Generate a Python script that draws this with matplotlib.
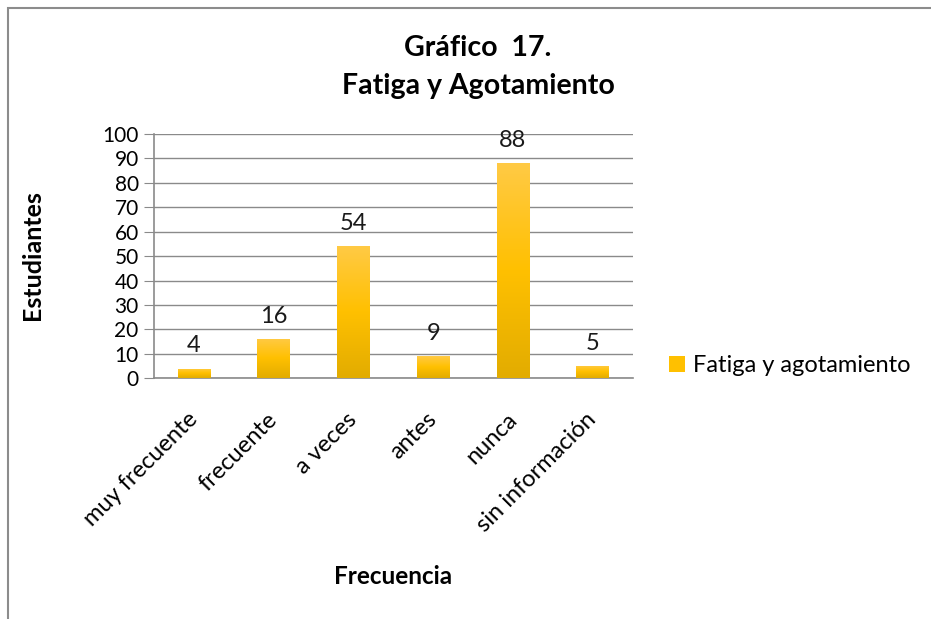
import matplotlib
matplotlib.use("Agg")
import matplotlib.pyplot as plt
import numpy as np
from matplotlib.colors import LinearSegmentedColormap
from matplotlib.patches import Rectangle, Patch
from matplotlib.transforms import ScaledTranslation

categories = ["muy frecuente", "frecuente", "a veces", "antes", "nunca", "sin información"]
values = [4, 16, 54, 9, 88, 5]
series_name = "Fatiga y agotamiento"
title = "Gráfico  17.\nFatiga y Agotamiento"
xlabel = "Frecuencia"
ylabel = "Estudiantes"
yticks = list(range(0, 101, 10))

plt.rcParams['font.family'] = ['Lato', 'DejaVu Sans']

fig = plt.figure(figsize=(9.31, 6.19), dpi=100)
ax = fig.add_axes([154/931, 1-378.3/619, (632.5-154)/931, (378.3-134)/619])

# outer chart border (cropped at right/bottom)
fig.patches.append(Rectangle((8/931, -0.1), 1.2, 1 - 8/619 + 0.1, transform=fig.transFigure,
                             fill=False, edgecolor='#8c8c8c', linewidth=1.5))

x = np.arange(len(categories))
bars = ax.bar(x, values, width=0.41, color='#FFC000', zorder=3)

cmap = LinearSegmentedColormap.from_list('g', ['#E2AC00', '#FFC000', '#FFCA45'])
grad = np.linspace(0, 1, 256).reshape(-1, 1)
for b in bars:
    x0, w, h = b.get_x(), b.get_width(), b.get_height()
    im = ax.imshow(grad, cmap=cmap, extent=[x0, x0 + w, 0, h], origin='lower',
                   aspect='auto', zorder=3.1)
    im.set_clip_path(b)
    ax.annotate(str(int(h)), (x0 + w/2, h), xytext=(0, 9), textcoords='offset points',
                ha='center', va='bottom', fontsize=17, color='#1a1a1a', zorder=5)

ax.set_xlim(-0.5, len(categories) - 0.5)
ax.set_ylim(0, 100)
ax.set_yticks(yticks)
ax.set_yticklabels([str(t) for t in yticks], fontsize=15)
ax.yaxis.grid(True, color='#8a8a8a', linewidth=1, zorder=0)
ax.set_axisbelow(True)
ax.tick_params(axis='y', length=7, color='#8a8a8a', pad=4)
ax.tick_params(axis='x', length=0, pad=22)
ax.set_xticks(x)
ax.set_xticklabels(categories, rotation=45, ha='right', va='top', rotation_mode='anchor',
                   fontsize=17)
shift = ScaledTranslation(-5/72, 0, fig.dpi_scale_trans)
for lbl in ax.get_xticklabels():
    lbl.set_transform(lbl.get_transform() + shift)
for s in ['top', 'right']:
    ax.spines[s].set_visible(False)
for s in ['left', 'bottom']:
    ax.spines[s].set_color('#8a8a8a')
    ax.spines[s].set_linewidth(1.2)

fig.text(478/931, 1-67/619, title, ha='center', va='center', fontsize=20.5, fontweight='bold',
         linespacing=1.6)
fig.text(393/931, 1-577/619, xlabel, ha='center', va='center', fontsize=17.5, fontweight='bold')
fig.text(32/931, 1-255/619, ylabel, ha='center', va='center', fontsize=18, fontweight='bold',
         rotation=90)

leg = fig.legend(handles=[Patch(facecolor='#FFC000', edgecolor='none', label=series_name)],
                 loc='center left', bbox_to_anchor=(655/931, 1-366/619), frameon=False,
                 fontsize=17, handlelength=0.65, handleheight=0.65, handletextpad=0.35,
                 borderaxespad=0.2)

fig.savefig("out.png", dpi=100)
